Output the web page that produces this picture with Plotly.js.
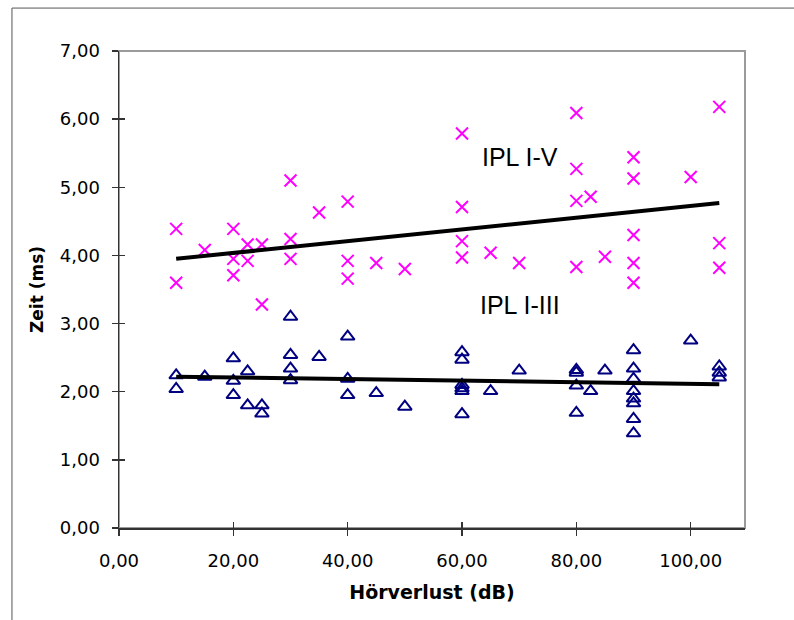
<!DOCTYPE html>
<html>
<head>
<meta charset="utf-8">
<script src="https://cdn.plot.ly/plotly-3.0.1.min.js"></script>
<style>html,body{margin:0;padding:0;background:#fff;}#chart{width:794px;height:620px;}</style>
</head>
<body>
<div id="chart"></div>
<script>
// IPL I-V (crosses)
var ivX = [10,10,15,20,20,20,22.5,22.5,25,25,30,30,30,35,40,40,40,45,50,60,60,60,60,65,70,80,80,80,80,82.5,85,90,90,90,90,90,100,105,105,105];
var ivY = [4.39,3.60,4.08,4.39,3.95,3.71,4.16,3.92,4.16,3.28,5.10,4.24,3.95,4.63,4.79,3.92,3.66,3.89,3.80,5.79,4.71,4.21,3.97,4.04,3.89,6.09,5.27,4.80,3.83,4.86,3.98,5.44,5.13,4.30,3.89,3.60,5.15,6.18,4.18,3.82];
// IPL I-III (triangles)
var iiiX = [10,10,15,20,20,20,22.5,22.5,25,25,30,30,30,30,35,40,40,40,45,50,60,60,60,60,60,60,65,70,80,80,80,80,82.5,85,90,90,90,90,90,90,90,90,100,105,105,105];
var iiiY = [2.24,2.04,2.22,2.49,2.16,1.95,2.30,1.80,1.80,1.68,3.10,2.54,2.34,2.17,2.51,2.81,2.19,1.95,1.98,1.78,2.58,2.47,2.10,2.05,2.01,1.67,2.01,2.31,2.32,2.28,2.09,1.69,2.01,2.31,2.61,2.34,2.19,2.01,1.90,1.83,1.60,1.39,2.75,2.37,2.28,2.21];
// linear trend lines (end points)
var trendX = [10, 105];
var trendIV = [3.95, 4.77];
var trendIII = [2.22, 2.11];
// labels
var labelIV = "IPL I-V";
var labelIII = "IPL I-III";
var labelPos = {x: 70.2, ivY: 5.44, iiiY: 3.27};

var xRange = [0, 109.5];
var yRange = [0, 7];
var xTicks = [0,20,40,60,80,100];
var yTicks = [0,1,2,3,4,5,6,7];

var tickFont = {family: "DejaVu Sans", size: 18, color: "#000"};

var traces = [
  {x: ivX, y: ivY, type: "scatter", mode: "markers", name: labelIV,
   marker: {symbol: "x-thin-open", size: 12, line: {color: "#FF00FF", width: 2}, color: "#FF00FF"}},
  {x: iiiX, y: iiiY, type: "scatter", mode: "markers", name: labelIII,
   marker: {symbol: "triangle-up-open", size: 12, color: "#000080", line: {color: "#000080", width: 2}}},
  {x: trendX, y: trendIV, type: "scatter", mode: "lines", xaxis: "x2", yaxis: "y2",
   line: {color: "#000", width: 4}, hoverinfo: "skip"},
  {x: trendX, y: trendIII, type: "scatter", mode: "lines", xaxis: "x2", yaxis: "y2",
   line: {color: "#000", width: 4}, hoverinfo: "skip"}
];

var layout = {
  width: 794, height: 620,
  margin: {l: 119, r: 49, t: 51, b: 92, pad: 0},
  paper_bgcolor: "#fff", plot_bgcolor: "#fff",
  showlegend: false,
  separators: ",.",
  xaxis: {
    range: xRange, tickvals: xTicks, tickformat: ".2f",
    ticks: "outside", ticklen: 6, tickwidth: 1.5, tickcolor: "#333",
    showline: true, linecolor: "#333", linewidth: 1.5,
    showgrid: false, zeroline: false,
    tickfont: tickFont, ticklabelstandoff: 10,
    title: {text: "Hörverlust (dB)", font: {family: "DejaVu Sans", size: 19, color: "#000", weight: "bold"}, standoff: 15}
  },
  yaxis: {
    range: yRange, tickvals: yTicks, tickformat: ".2f",
    ticks: "outside", ticklen: 6, tickwidth: 1.5, tickcolor: "#333",
    showline: true, linecolor: "#333", linewidth: 1.5,
    showgrid: false, zeroline: false,
    tickfont: tickFont, ticklabelstandoff: 8,
    title: {text: "Zeit (ms)", font: {family: "DejaVu Sans", size: 17, color: "#000", weight: "bold"}, standoff: 12}
  },
  xaxis2: {
    overlaying: "x", range: xRange, tickvals: xTicks, ticks: "inside", ticklen: 6, tickwidth: 1.5, tickcolor: "#333",
    showticklabels: false, showline: false, showgrid: false, zeroline: false
  },
  yaxis2: {
    overlaying: "y", range: yRange, tickvals: yTicks, ticks: "inside", ticklen: 6, tickwidth: 1.5, tickcolor: "#333",
    showticklabels: false, showline: false, showgrid: false, zeroline: false
  },
  annotations: [
    {x: labelPos.x, y: labelPos.ivY, xref: "x", yref: "y", text: labelIV, showarrow: false,
     font: {family: "Liberation Sans", size: 25, color: "#000"}},
    {x: labelPos.x, y: labelPos.iiiY, xref: "x", yref: "y", text: labelIII, showarrow: false,
     font: {family: "Liberation Sans", size: 25, color: "#000"}}
  ],
  shapes: [
    {type: "rect", xref: "paper", yref: "paper", x0: 0, x1: 1, y0: 0, y1: 1, layer: "below",
     line: {color: "#9a9a9a", width: 2}},
    {type: "rect", xref: "paper", yref: "paper", x0: -0.171, x1: 1.1, y0: -0.25, y1: 1.09, layer: "below",
     line: {color: "#555", width: 1}}
  ]
};

Plotly.newPlot("chart", traces, layout, {displayModeBar: false, staticPlot: true});
</script>
</body>
</html>
